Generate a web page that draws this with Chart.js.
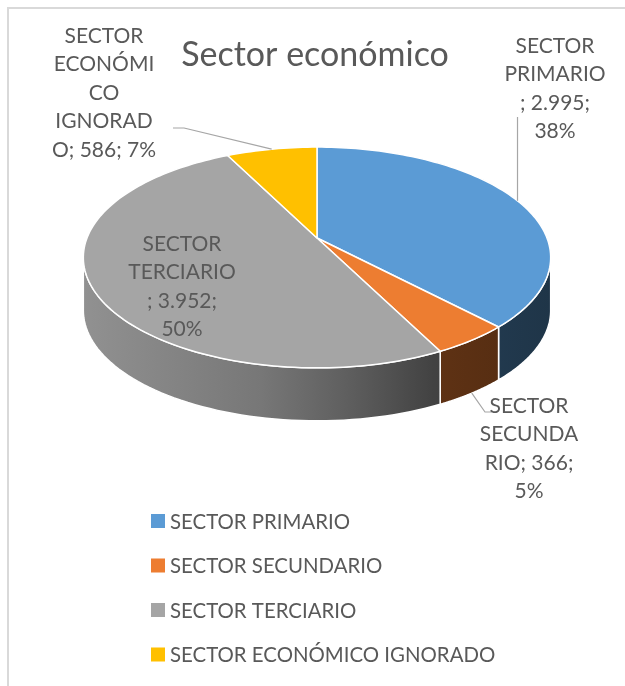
<!DOCTYPE html>
<html>
<head>
<meta charset="utf-8">
<script src="https://cdn.jsdelivr.net/npm/chart.js@4.4.1/dist/chart.umd.min.js"></script>
<style>
  html, body { margin: 0; padding: 0; background: #fff; }
  #wrap { width: 625px; height: 686px; position: relative; }
</style>
</head>
<body>
<div id="wrap"><canvas id="chart" width="625" height="686"></canvas></div>
<script>
// data
const categories = ['SECTOR PRIMARIO', 'SECTOR SECUNDARIO', 'SECTOR TERCIARIO', 'SECTOR ECONÓMICO IGNORADO'];
const values = [2995, 366, 3952, 586];
const colors = ['#5B9BD5', '#ED7D31', '#A5A5A5', '#FFC000'];
const chartTitle = 'Sector económico';

// look of the fake 3D pie
const TILT = 0.465;    // vertical squash of the top face
const PERSP = 0.1765;  // perspective, front looks bigger
const DEPTH = 53;      // thickness of the pie in px
const TEXT = '#595959';
const FONT = 'Lato, "Open Sans", sans-serif';

// label placement (center x, first line y) and wrap width, per slice
const labelPos = [[555, 46], [529, 406], [182, 244], [104, 36]];
const labelWrap = [104, 100, 110, 106];

const total = values.reduce((a, b) => a + b, 0);
const fmt = v => String(v).replace(/\B(?=(\d{3})+(?!\d))/g, '.');

function proj(arc, a, dy) {
  const w = Math.sin(a), d = 1 - PERSP * w;
  return [arc.x + arc.outerRadius * Math.cos(a) / d, arc.y + arc.outerRadius * TILT * w / d + (dy || 0)];
}

function shade(hex, f) {
  const n = parseInt(hex.slice(1), 16);
  const r = Math.round(((n >> 16) & 255) * f), g = Math.round(((n >> 8) & 255) * f), b = Math.round((n & 255) * f);
  return 'rgb(' + r + ',' + g + ',' + b + ')';
}

function wrapLabel(ctx, text, maxW) {
  const lines = [];
  let line = '';
  for (let word of text.split(' ')) {
    const test = line ? line + ' ' + word : word;
    if (ctx.measureText(test).width <= maxW) { line = test; continue; }
    if (line) { lines.push(line); line = ''; }
    while (ctx.measureText(word).width > maxW) {
      let k = word.length;
      while (k > 1 && ctx.measureText(word.slice(0, k)).width > maxW) k--;
      lines.push(word.slice(0, k));
      word = word.slice(k);
    }
    line = word;
  }
  if (line) lines.push(line);
  return lines;
}

const pie3d = {
  id: 'pie3d',
  beforeDatasetsDraw(chart) {
    const ctx = chart.ctx;
    const arcs = chart.getDatasetMeta(0).data;
    const a0 = Math.asin(PERSP), a1 = Math.PI - Math.asin(PERSP);
    const ref = arcs[0];
    const xl = proj(ref, a1)[0], xr = proj(ref, a0)[0];

    // side walls (front half only)
    arcs.forEach((arc, i) => {
      const s = Math.max(arc.startAngle, a0), e = Math.min(arc.endAngle, a1);
      if (e <= s) return;
      const grad = ctx.createLinearGradient(xl, 0, xr, 0);
      [[0, 0.88], [0.38, 0.72], [0.57, 0.57], [0.75, 0.40], [1, 0.34]].forEach(st => grad.addColorStop(st[0], shade(colors[i], st[1])));
      ctx.beginPath();
      const n = 60;
      for (let k = 0; k <= n; k++) {
        const p = proj(arc, s + (e - s) * k / n, 0);
        k ? ctx.lineTo(p[0], p[1]) : ctx.moveTo(p[0], p[1]);
      }
      for (let k = n; k >= 0; k--) {
        const p = proj(arc, s + (e - s) * k / n, DEPTH);
        ctx.lineTo(p[0], p[1]);
      }
      ctx.closePath();
      ctx.fillStyle = grad;
      ctx.fill();
      ctx.strokeStyle = '#fff';
      ctx.lineWidth = 1.5;
      ctx.stroke();
    });

    // top face
    arcs.forEach((arc, i) => {
      const s = arc.startAngle, e = arc.endAngle;
      const n = Math.max(8, Math.ceil((e - s) * 40));
      ctx.beginPath();
      ctx.moveTo(arc.x, arc.y);
      for (let k = 0; k <= n; k++) {
        const p = proj(arc, s + (e - s) * k / n, 0);
        ctx.lineTo(p[0], p[1]);
      }
      ctx.closePath();
      ctx.fillStyle = colors[i];
      ctx.fill();
      ctx.strokeStyle = '#fff';
      ctx.lineWidth = 1.5;
      ctx.lineJoin = 'round';
      ctx.stroke();
    });
    return false;
  },
  afterDraw(chart) {
    const ctx = chart.ctx;
    const arcs = chart.getDatasetMeta(0).data;
    ctx.save();

    // outer frame (top and left only show)
    ctx.fillStyle = '#d9d9d9';
    ctx.fillRect(7, 7, 618, 2);
    ctx.fillRect(7, 7, 2, 679);

    // title
    ctx.fillStyle = TEXT;
    ctx.font = '34px ' + FONT;
    ctx.textAlign = 'center';
    ctx.textBaseline = 'alphabetic';
    ctx.fillText(chartTitle, 315, 66);

    // leader lines, ending on the rim at each slice's middle angle
    const mid = arc => (arc.startAngle + arc.endAngle) / 2;
    ctx.strokeStyle = '#a6a6a6';
    ctx.lineWidth = 1.2;
    let p = proj(arcs[0], mid(arcs[0]), 0);
    ctx.beginPath(); ctx.moveTo(p[0], 117); ctx.lineTo(p[0], p[1]); ctx.stroke();
    p = proj(arcs[3], mid(arcs[3]), 0);
    ctx.beginPath(); ctx.moveTo(173, 128); ctx.lineTo(184, 128); ctx.lineTo(p[0], p[1]); ctx.stroke();
    p = proj(arcs[1], mid(arcs[1]), DEPTH);
    ctx.beginPath(); ctx.moveTo(p[0], p[1]); ctx.lineTo(485, 412); ctx.lineTo(492, 412); ctx.stroke();

    // data labels: category; value; percent
    ctx.font = '21px ' + FONT;
    ctx.fillStyle = TEXT;
    ctx.textBaseline = 'middle';
    categories.forEach((cat, i) => {
      const pct = Math.round(values[i] / total * 100);
      const lines = wrapLabel(ctx, cat + '; ' + fmt(values[i]) + '; ' + pct + '%', labelWrap[i]);
      lines.forEach((ln, j) => ctx.fillText(ln, labelPos[i][0], labelPos[i][1] + j * 28.5));
    });

    // legend
    ctx.font = '20.4px ' + FONT;
    ctx.textAlign = 'left';
    ctx.textBaseline = 'alphabetic';
    categories.forEach((cat, i) => {
      const y = 521 + i * 44.5;
      ctx.fillStyle = colors[i];
      ctx.fillRect(151, y - 7, 14, 14);
      ctx.fillStyle = TEXT;
      ctx.fillText(cat, 170, y + 7.5);
    });
    ctx.restore();
  }
};

function draw() {
  new Chart(document.getElementById('chart'), {
    type: 'pie',
    data: {
      labels: categories,
      datasets: [{
        data: values,
        backgroundColor: colors,
        borderWidth: 0,
        hoverOffset: 0,
        offset: 0
      }]
    },
    options: {
      responsive: false,
      animation: false,
      events: [],
      layout: { padding: { left: 9, top: 8, right: 0, bottom: 218 } },
      plugins: {
        legend: { display: false },
        title: { display: false },
        tooltip: { enabled: false }
      }
    },
    plugins: [pie3d]
  });
}

if (document.fonts && document.fonts.load) {
  document.fonts.load('21px Lato').then(draw, draw);
} else {
  draw();
}
</script>
</body>
</html>
